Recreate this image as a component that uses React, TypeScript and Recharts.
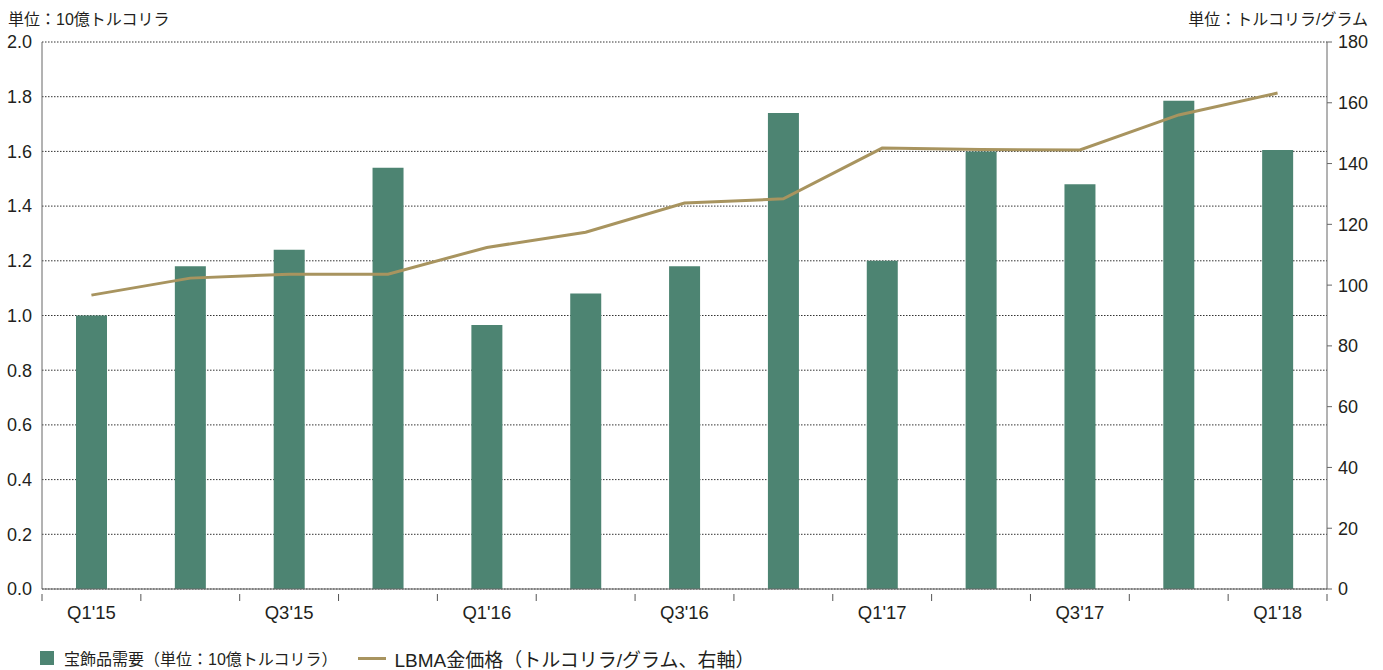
import React from "react";
import { ComposedChart, Bar, Line, XAxis, YAxis, CartesianGrid } from "recharts";

const categories = ["Q1'15", "Q2'15", "Q3'15", "Q4'15", "Q1'16", "Q2'16", "Q3'16", "Q4'16", "Q1'17", "Q2'17", "Q3'17", "Q4'17", "Q1'18"];
const jewelleryDemand = [1.0, 1.18, 1.24, 1.54, 0.965, 1.08, 1.18, 1.74, 1.2, 1.6, 1.48, 1.785, 1.605];
const goldPrice = [96.7, 102.3, 103.6, 103.6, 112.4, 117.4, 127.0, 128.4, 145.1, 144.6, 144.5, 156.0, 163.2];
const leftTicks = [0, 0.2, 0.4, 0.6, 0.8, 1.0, 1.2, 1.4, 1.6, 1.8, 2.0];
const rightTicks = [0, 20, 40, 60, 80, 100, 120, 140, 160, 180];

const barName = "宝飾品需要（単位：10億トルコリラ）";
const lineName = "LBMA金価格（トルコリラ/グラム、右軸）";
const leftUnit = "単位：10億トルコリラ";
const rightUnit = "単位：トルコリラ/グラム";

const data = categories.map((c, i) => ({ cat: c, demand: jewelleryDemand[i], price: goldPrice[i] }));

const FONT = "'Liberation Sans', 'Noto Sans CJK JP', sans-serif";
const BAR_COLOR = "#4d8472";
const LINE_COLOR = "#a8945f";
const TEXT_COLOR = "#231f20";

const XTick = (props: any) => {
  const { x, y, payload, index } = props;
  const bw = 1285 / categories.length;
  const showLabel = index % 2 === 0;
  return (
    <g>
      <line x1={x - bw / 2} x2={x - bw / 2} y1={y - 1} y2={y + 6} stroke="#555" strokeWidth={1} />
      {index === categories.length - 1 && (
        <line x1={x + bw / 2} x2={x + bw / 2} y1={y - 1} y2={y + 6} stroke="#555" strokeWidth={1} />
      )}
      {showLabel && (
        <text x={x} y={y + 24} textAnchor="middle" fill={TEXT_COLOR} fontSize={18.5} fontFamily={FONT}>
          {payload.value}
        </text>
      )}
    </g>
  );
};

export default function App() {
  return (
    <div style={{ position: "absolute", left: 0, top: 0, width: 1383, height: 670, background: "#fff" }}>
      <div style={{ position: "absolute", left: 8, top: 6, fontSize: 16, fontFamily: FONT, color: TEXT_COLOR, whiteSpace: "nowrap" }}>{leftUnit}</div>
      <div style={{ position: "absolute", right: 15, top: 6, fontSize: 16, fontFamily: FONT, color: TEXT_COLOR, whiteSpace: "nowrap" }}>{rightUnit}</div>
      <ComposedChart
        width={1383}
        height={670}
        data={data}
        margin={{ top: 42, right: 0, bottom: 41, left: 0 }}
      >
        <CartesianGrid vertical={false} stroke="#333" strokeDasharray="1.5 1.5" yAxisId="left" />
        <XAxis
          dataKey="cat"
          interval={0}
          height={40}
          tickLine={false}
          axisLine={{ stroke: "#666" }}
          tick={<XTick />}
          tickMargin={0}
        />
        <YAxis
          yAxisId="left"
          orientation="left"
          width={42}
          domain={[0, 2]}
          ticks={leftTicks}
          tickFormatter={(v: number) => v.toFixed(1)}
          axisLine={{ stroke: "#666" }}
          tickLine={false}
          tickMargin={4}
          tick={{ fill: TEXT_COLOR, fontSize: 18, fontFamily: FONT }}
          interval={0}
        />
        <YAxis
          yAxisId="right"
          orientation="right"
          width={56}
          domain={[0, 180]}
          ticks={rightTicks}
          axisLine={{ stroke: "#666" }}
          tickLine={{ stroke: "#666" }}
          tickSize={5}
          tickMargin={6}
          tick={{ fill: TEXT_COLOR, fontSize: 18, fontFamily: FONT }}
          interval={0}
        />
        <Bar yAxisId="left" dataKey="demand" name={barName} fill={BAR_COLOR} barSize={31} isAnimationActive={false} />
        <Line
          yAxisId="right"
          dataKey="price"
          name={lineName}
          stroke={LINE_COLOR}
          strokeWidth={3}
          dot={false}
          activeDot={false}
          type="linear"
          isAnimationActive={false}
        />
      </ComposedChart>
      <div style={{ position: "absolute", left: 40, top: 646, height: 24, display: "flex", alignItems: "center", fontFamily: FONT, color: TEXT_COLOR, whiteSpace: "nowrap" }}>
        <span style={{ display: "inline-block", width: 14, height: 14, background: BAR_COLOR, marginRight: 10 }} />
        <span style={{ fontSize: 16 }}>{barName}</span>
        <span style={{ display: "inline-block", width: 28, height: 3, background: LINE_COLOR, marginLeft: 21, marginRight: 8 }} />
        <span style={{ fontSize: 19 }}>{lineName}</span>
      </div>
    </div>
  );
}
